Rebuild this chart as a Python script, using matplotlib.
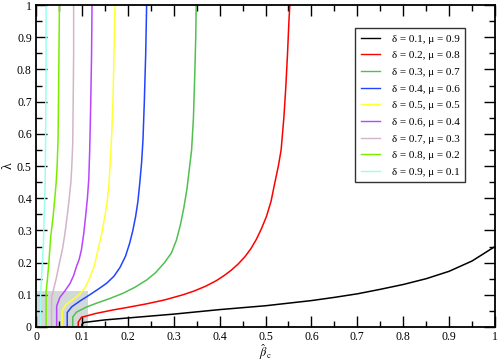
import matplotlib
matplotlib.use("Agg")
import matplotlib.pyplot as plt
from matplotlib.patches import Rectangle
from matplotlib.ticker import MultipleLocator

plt.rcParams['font.family'] = ['Liberation Serif', 'DejaVu Serif']
plt.rcParams['mathtext.fontset'] = 'stix'

# (beta_c, lambda) points, one curve per delta
labels = ["δ = 0.1, μ = 0.9", "δ = 0.2, μ = 0.8", "δ = 0.3, μ = 0.7",
          "δ = 0.4, μ = 0.6", "δ = 0.5, μ = 0.5", "δ = 0.6, μ = 0.4",
          "δ = 0.7, μ = 0.3", "δ = 0.8, μ = 0.2", "δ = 0.9, μ = 0.1"]
colors = ['#000000', '#ff0000', '#50c050', '#2244ff', '#ffff33',
          '#bb44ff', '#d4b4c8', '#77ee00', '#99ffee']

x_d01 = [0.100, 0.100, 0.104, 0.15, 0.20, 0.25, 0.30, 0.35, 0.40, 0.45, 0.50,
         0.55, 0.60, 0.65, 0.70, 0.75, 0.80, 0.85, 0.90, 0.95, 1.00]
y_d01 = [0.000, 0.008, 0.014, 0.022, 0.028, 0.034, 0.040, 0.047, 0.054, 0.060, 0.066,
         0.074, 0.082, 0.092, 0.103, 0.117, 0.132, 0.150, 0.173, 0.205, 0.250]

x_d02 = [0.092, 0.092, 0.099, 0.13, 0.168, 0.20, 0.241, 0.28, 0.32, 0.345, 0.37,
         0.393, 0.41, 0.425, 0.44, 0.455, 0.468, 0.480, 0.491, 0.502, 0.512,
         0.520, 0.528, 0.534, 0.540, 0.544, 0.548, 0.551, 0.553]
y_d02 = [0.000, 0.015, 0.030, 0.042, 0.053, 0.061, 0.072, 0.084, 0.100, 0.112, 0.127,
         0.144, 0.160, 0.176, 0.195, 0.218, 0.243, 0.272, 0.305, 0.343, 0.390,
         0.446, 0.500, 0.550, 0.650, 0.740, 0.850, 0.950, 1.000]

x_d03 = [0.080, 0.080, 0.088, 0.11, 0.132, 0.16, 0.19, 0.215, 0.241, 0.26, 0.28,
         0.295, 0.306, 0.315, 0.322, 0.329, 0.334, 0.339, 0.343, 0.346, 0.348, 0.349]
y_d03 = [0.000, 0.031, 0.046, 0.062, 0.074, 0.088, 0.105, 0.123, 0.146, 0.168, 0.200,
         0.230, 0.270, 0.320, 0.370, 0.430, 0.490, 0.550, 0.650, 0.790, 0.900, 1.000]

x_d04 = [0.068, 0.068, 0.078, 0.095, 0.117, 0.135, 0.154, 0.17, 0.183, 0.195, 0.204,
         0.211, 0.217, 0.222, 0.226, 0.230, 0.233, 0.236, 0.239, 0.241]
y_d04 = [0.000, 0.045, 0.063, 0.080, 0.100, 0.117, 0.136, 0.158, 0.185, 0.220, 0.260,
         0.300, 0.343, 0.390, 0.446, 0.510, 0.580, 0.700, 0.850, 1.000]

x_d05 = [0.057, 0.057, 0.065, 0.08, 0.096, 0.108, 0.117, 0.127, 0.135, 0.143, 0.150,
         0.155, 0.159, 0.162, 0.165, 0.168, 0.170, 0.172]
y_d05 = [0.000, 0.050, 0.070, 0.085, 0.103, 0.125, 0.153, 0.190, 0.240, 0.290, 0.343,
         0.390, 0.446, 0.520, 0.600, 0.720, 0.860, 1.000]

x_d06 = [0.045, 0.045, 0.052, 0.063, 0.074, 0.082, 0.088, 0.094, 0.099, 0.104, 0.108,
         0.112, 0.115, 0.117, 0.119, 0.121, 0.122]
y_d06 = [0.000, 0.065, 0.092, 0.112, 0.135, 0.160, 0.187, 0.210, 0.240, 0.290, 0.343,
         0.400, 0.460, 0.550, 0.680, 0.840, 1.000]

x_d07 = [0.034, 0.034, 0.038, 0.044, 0.052, 0.058, 0.063, 0.068, 0.072, 0.076, 0.078,
         0.080, 0.081, 0.082, 0.082]
y_d07 = [0.000, 0.090, 0.115, 0.150, 0.205, 0.245, 0.290, 0.345, 0.394, 0.450, 0.500,
         0.570, 0.700, 0.850, 1.000]

x_d08 = [0.022, 0.022, 0.025, 0.028, 0.032, 0.037, 0.041, 0.044, 0.046, 0.048, 0.049,
         0.050, 0.051]
y_d08 = [0.000, 0.110, 0.150, 0.200, 0.280, 0.340, 0.400, 0.450, 0.500, 0.580, 0.700,
         0.850, 1.000]

x_d09 = [0.010, 0.010, 0.012, 0.014, 0.016, 0.018, 0.020, 0.021, 0.022, 0.022]
y_d09 = [0.000, 0.100, 0.150, 0.200, 0.260, 0.350, 0.450, 0.600, 0.800, 1.000]

xs = [x_d01, x_d02, x_d03, x_d04, x_d05, x_d06, x_d07, x_d08, x_d09]
ys = [y_d01, y_d02, y_d03, y_d04, y_d05, y_d06, y_d07, y_d08, y_d09]

# shaded zoom region in the lower left corner
box_w, box_h = 0.113, 0.113

fig = plt.figure(figsize=(4.98, 3.61), dpi=100)
ax = fig.add_axes([0.0723, 0.0942, 0.9217, 0.8918])

ax.add_patch(Rectangle((0, 0), box_w, box_h, facecolor='#d3d9d9',
                       edgecolor='none', zorder=0))

for x, y, c, lab in zip(xs, ys, colors, labels):
    ax.plot(x, y, color=c, lw=1.1, label=lab, zorder=2)

ax.set_xlim(0, 1)
ax.set_ylim(0, 1)
ax.xaxis.set_major_locator(MultipleLocator(0.1))
ax.xaxis.set_minor_locator(MultipleLocator(0.05))
ax.yaxis.set_major_locator(MultipleLocator(0.1))
ax.yaxis.set_minor_locator(MultipleLocator(0.05))
ax.xaxis.set_major_formatter(plt.FuncFormatter(lambda v, p: f'{v:g}'))
ax.yaxis.set_major_formatter(plt.FuncFormatter(lambda v, p: f'{v:g}'))
ax.tick_params(which='both', direction='in', top=True, right=True,
               labelsize=8.5, width=1.0)
ax.tick_params(which='major', length=8, pad=3)
ax.tick_params(which='minor', length=4)
for s in ax.spines.values():
    s.set_linewidth(1.3)

ax.set_xlabel(r'$\hat{\beta}_{\mathrm{c}}$', fontsize=9)
ax.xaxis.set_label_coords(0.5, -0.047)
ax.set_ylabel('λ', fontsize=10, labelpad=2)

leg = ax.legend(loc='upper right', bbox_to_anchor=(0.935, 0.928), fontsize=8,
                frameon=True, fancybox=False, edgecolor='black',
                handlelength=1.7, handletextpad=1.1, labelspacing=0.62,
                borderpad=0.5, borderaxespad=0)
leg.get_frame().set_linewidth(1.0)
for h in leg.get_lines():
    h.set_linewidth(1.0)

fig.savefig('out.png', dpi=100)
